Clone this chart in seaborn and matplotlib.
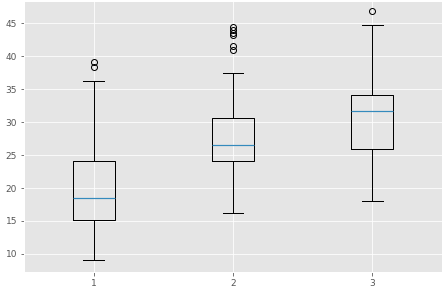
import numpy as np
import pandas as pd
import matplotlib
matplotlib.use("Agg")
import matplotlib.pyplot as plt
import seaborn as sns

# Summary values
groups = ["1", "2", "3"]
whisker_low = [9.0, 16.25, 18.0]
q1 = [15.1, 24.05, 25.9]
median = [18.5, 26.5, 31.7]
q3 = [24.05, 30.7, 34.2]
whisker_high = [36.3, 37.4, 44.8]
outliers = [[38.4, 39.1], [41.0, 41.6, 43.2, 43.5, 44.0, 44.5], [46.85]]

# Build a sample per group that reproduces exactly these box statistics
rows = []
for g, lo, a, m, b, hi, outs in zip(groups, whisker_low, q1, median, q3, whisker_high, outliers):
    vals = [lo] * 5 + [a] * 20 + [m] * 20 + [b] * 20 + [hi] * 5 + list(outs)
    rows += [(g, v) for v in vals]
df = pd.DataFrame(rows, columns=["group", "value"])

plt.style.use("ggplot")
fig = plt.figure(figsize=(443 / 72, 294 / 72), dpi=72)
ax = fig.add_axes([24 / 443, 1 - 272 / 294, 418 / 443, 271 / 294])

sns.boxplot(
    data=df, x="group", y="value", order=groups, ax=ax,
    fill=False, color="black", width=0.3, linewidth=1,
    flierprops=dict(marker="o", markersize=6, markerfacecolor="none",
                    markeredgecolor="black", markeredgewidth=1),
)
# colour the median lines like matplotlib's ggplot default (C1)
for ln in ax.lines:
    y = np.asarray(ln.get_ydata(), dtype=float)
    x = np.asarray(ln.get_xdata(), dtype=float)
    if len(y) == 2 and np.isclose(y[0], y[1]) and abs(x[1] - x[0]) > 0.2:
        ln.set_color("#348ABD")
        ln.set_linewidth(1.2)
        ln.set_snap(True)
        ln.set_zorder(5)

ax.set_xlabel("")
ax.set_ylabel("")
ax.set_yticks([10, 15, 20, 25, 30, 35, 40, 45])
ax.set_xlim(-0.5, 2.5)
ax.set_ylim(7.25, 48.4)
ax.grid(True, color="white")
ax.tick_params(labelsize=9, colors="#555555")

fig.savefig("out.png", dpi=72)
